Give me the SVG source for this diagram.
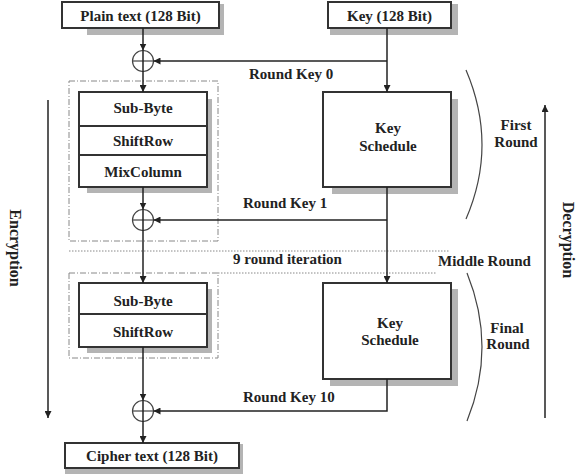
<svg xmlns="http://www.w3.org/2000/svg" width="576" height="476" viewBox="0 0 576 476" font-family="'Liberation Serif', 'DejaVu Serif', 'Times New Roman', serif">
<defs>
<marker id="ah" viewBox="0 0 8 8" refX="8" refY="4" markerWidth="7" markerHeight="7" markerUnits="userSpaceOnUse" orient="auto">
<path d="M0,0 L8,4 L0,8 z" fill="#222"/>
</marker>
<style>
text{font-family:'Liberation Serif','DejaVu Serif','Times New Roman',serif;font-weight:bold;font-size:15px;fill:#222}
.c{text-anchor:middle}
.box{fill:#fff;stroke:#333;stroke-width:2}
.sh{fill:#b4b4b4}
.ln{fill:none;stroke:#222;stroke-width:1.5}
.xor{fill:none;stroke:#444;stroke-width:1.2}
.dd{fill:none;stroke:#888;stroke-width:1;stroke-dasharray:6,2,1,2}
.dot{fill:none;stroke:#888;stroke-width:1;stroke-dasharray:1.5,1.5}
.br{fill:none;stroke:#444;stroke-width:1.2}
</style>
</defs>
<rect width="576" height="476" fill="#fff"/>

<g id="frames">
<rect class="dd" x="69" y="81" width="149" height="160"/>
<rect class="dd" x="69" y="273" width="149" height="85"/>
<path class="dot" d="M69,251 H450"/>
<path class="dot" d="M218,273 H437"/>
</g>

<g id="plaintext">
<path class="sh" d="M219,4 h5 v31 h-137 v-7 h132 z"/>
<rect class="box" x="62" y="2" width="157" height="26"/>
<text class="c" x="140.5" y="21">Plain text (128 Bit)</text>
</g>

<g id="key">
<path class="sh" d="M451,4 h7 v31 h-128 v-7 h121 z"/>
<rect class="box" x="328" y="2" width="123" height="26"/>
<text class="c" x="389.5" y="21">Key (128 Bit)</text>
</g>

<g id="round1">
<path class="sh" d="M207,99 h5 v94 h-125 v-6 h120 z"/>
<rect class="box" x="79" y="92" width="128" height="95"/>
<path d="M79,126 H207 M79,155 H207" stroke="#333" stroke-width="2"/>
<text class="c" x="143" y="113">Sub-Byte</text>
<text class="c" x="143" y="146">ShiftRow</text>
<text class="c" x="143" y="177">MixColumn</text>
</g>

<g id="keyschedule1">
<path class="sh" d="M451,99 h7 v95 h-126 v-7 h119 z"/>
<rect class="box" x="323" y="92" width="128" height="95"/>
<text class="c" x="388" y="133">Key</text>
<text class="c" x="388" y="151">Schedule</text>
</g>

<g id="round2">
<path class="sh" d="M207,289 h5 v64 h-125 v-6 h120 z"/>
<rect class="box" x="79" y="283" width="128" height="64"/>
<path d="M79,314 H207" stroke="#333" stroke-width="2"/>
<text class="c" x="143" y="306">Sub-Byte</text>
<text class="c" x="143" y="337">ShiftRow</text>
</g>

<g id="keyschedule2">
<path class="sh" d="M451,289 h7 v97 h-128 v-7 h121 z"/>
<rect class="box" x="323" y="283" width="128" height="96"/>
<text class="c" x="390" y="328">Key</text>
<text class="c" x="390" y="345">Schedule</text>
</g>

<g id="ciphertext">
<path class="sh" d="M239,444 h4 v30 h-178 v-6 h174 z"/>
<rect class="box" x="65" y="443" width="174" height="25"/>
<text class="c" x="152" y="461">Cipher text (128 Bit)</text>
</g>

<g id="xor0"><circle class="xor" cx="143" cy="61" r="10.5"/><path class="xor" d="M132.5,61 H153.5"/></g>
<g id="xor1"><circle class="xor" cx="143" cy="220" r="10.5"/><path class="xor" d="M132.5,220 H153.5"/></g>
<g id="xor2"><circle class="xor" cx="143" cy="411" r="10.5"/><path class="xor" d="M132.5,411 H153.5"/></g>

<g id="connectors">
<path class="ln" d="M143,28 V50.5" marker-end="url(#ah)"/>
<path class="ln" d="M143,50.5 V92" marker-end="url(#ah)"/>
<path class="ln" d="M143,187 V209.5" marker-end="url(#ah)"/>
<path class="ln" d="M143,209.5 V283" marker-end="url(#ah)"/>
<path class="ln" d="M143,347 V400.5" marker-end="url(#ah)"/>
<path class="ln" d="M143,400.5 V443" marker-end="url(#ah)"/>
<path class="ln" d="M387,28 V92" marker-end="url(#ah)"/>
<path class="ln" d="M387,61 H153.5" marker-end="url(#ah)"/>
<path class="ln" d="M387,187 V283" marker-end="url(#ah)"/>
<path class="ln" d="M387,220 H153.5" marker-end="url(#ah)"/>
<path class="ln" d="M387,379 V411 H153.5" marker-end="url(#ah)"/>
<path class="ln" d="M48,100 V418" stroke-width="2" marker-end="url(#ah)"/>
<path class="ln" d="M545,418 V105" stroke-width="2" marker-end="url(#ah)"/>
</g>

<g id="labels">
<text x="249" y="79">Round Key 0</text>
<text x="243" y="208">Round Key 1</text>
<text x="243" y="402">Round Key 10</text>
<text x="233" y="264">9 round iteration</text>
<text x="438" y="266">Middle Round</text>
<text class="c" x="516" y="130">First</text>
<text class="c" x="516" y="147">Round</text>
<text class="c" x="507" y="333">Final</text>
<text class="c" x="508" y="349">Round</text>
<text class="c" transform="translate(10,248) rotate(90)" style="font-size:16px">Encryption</text>
<text class="c" transform="translate(563,240) rotate(90)" style="font-size:16px">Decryption</text>
</g>

<g id="brackets">
<path class="br" d="M466,70 Q498,145 466,219"/>
<path class="br" d="M467,273 Q497,347 467,421"/>
</g>
</svg>
